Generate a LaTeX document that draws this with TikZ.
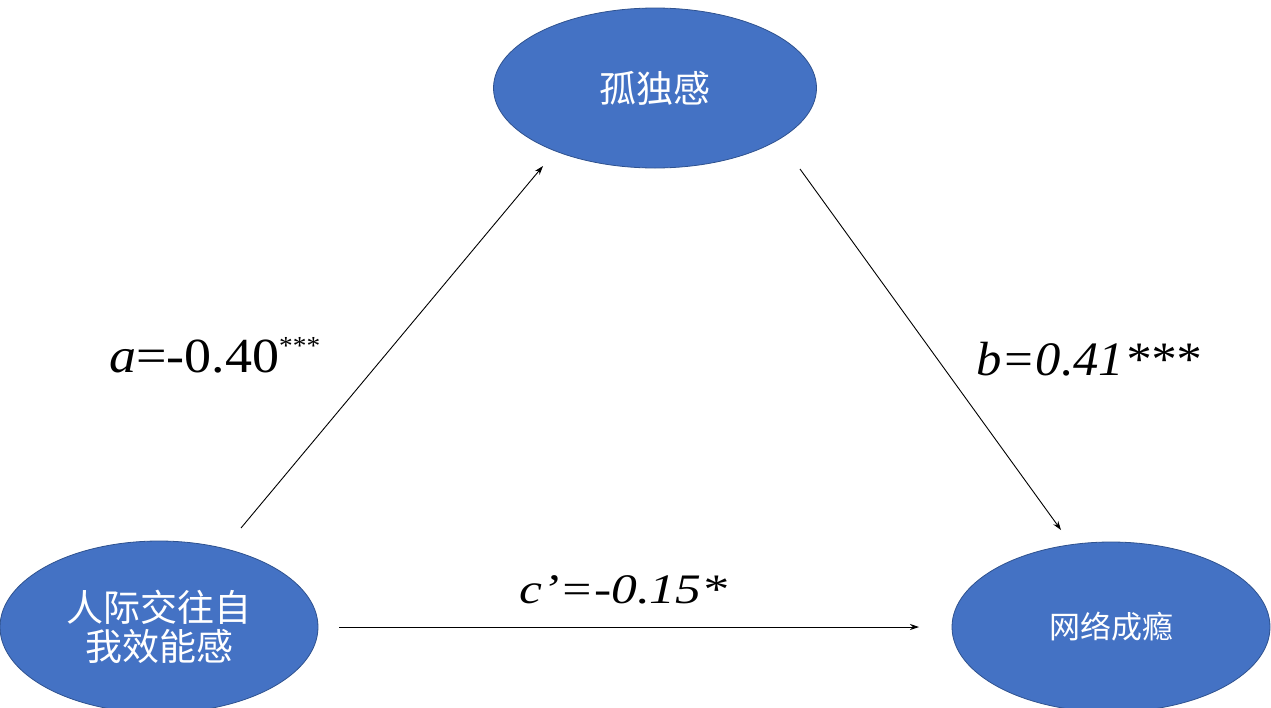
\documentclass[tikz,border=0pt]{standalone}
\usepackage{fontspec}
\usepackage{graphicx}
\setmainfont{Liberation Serif}
\newfontfamily\cjk{Noto Sans CJK SC}
\usetikzlibrary{shapes.geometric,arrows.meta}
\definecolor{oblue}{HTML}{4472C4}
\definecolor{oedge}{HTML}{2F528F}
\begin{document}
\begin{tikzpicture}[x=1pt,y=-1pt,
  blob/.style={ellipse,fill=oblue,draw=oedge,line width=0.8pt,text=white,align=center,inner sep=0pt},
  link/.style={line width=0.9pt,-{Stealth[length=9pt,width=6pt]}},
  coef/.style={anchor=base west,inner sep=0pt}]
\useasboundingbox (0,0) rectangle (1271,707);
\clip (0,0) rectangle (1271,707);
\node[blob,minimum width=323pt,minimum height=160pt,font=\cjk\fontsize{37}{40}\selectfont] (T) at (655,88) {孤独感};
\node[blob,minimum width=318pt,minimum height=172pt,font=\cjk\fontsize{37}{39}\selectfont] (L) at (159,627) {人际交往自\\我效能感};
\node[blob,minimum width=318pt,minimum height=170pt,font=\cjk\fontsize{31}{34}\selectfont] (R) at (1111,627) {网络成瘾};
\coordinate (a1) at (241,528);
\coordinate (a2) at (543,166);
\coordinate (b1) at (800,169);
\coordinate (b2) at (1061,530);
\coordinate (c1) at (339,627);
\coordinate (c2) at (919,627);
\draw[link] (a1) -- (a2);
\draw[link] (b1) -- (b2);
\draw[link] (c1) -- (c2);
\node[coef,font=\fontsize{49}{52}\selectfont] (la) at (109,372)
  {\resizebox{170pt}{\height}{\textit{a}=-0.40}\raisebox{18pt}{\fontsize{26}{28}\selectfont\resizebox{41pt}{\height}{***}}};
\node[coef,font=\fontsize{48}{50}\selectfont\itshape] (lb) at (976,375)
  {\resizebox{224pt}{\height}{b=0.41***}};
\node[coef,font=\fontsize{42}{46}\selectfont\itshape] (lc) at (519,603)
  {\resizebox{208pt}{\height}{c’=-0.15*}};
\end{tikzpicture}
\end{document}
